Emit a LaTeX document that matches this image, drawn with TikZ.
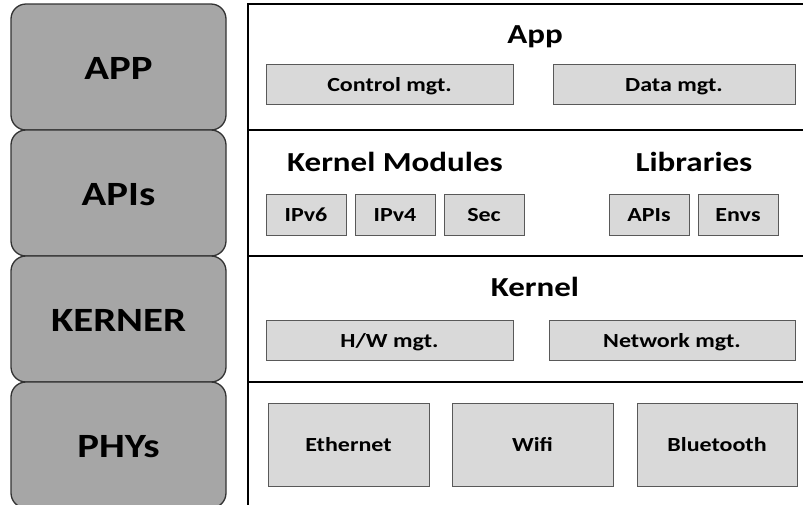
\documentclass[tikz,border=0pt]{standalone}
\usepackage{fontspec}
\setmainfont{Carlito}[FakeStretch=1.2]
\definecolor{layergray}{HTML}{A6A6A6}
\definecolor{boxgray}{HTML}{D9D9D9}
\definecolor{boxedge}{HTML}{595959}
\begin{document}
\begin{tikzpicture}[x=1pt,y=-1pt,
  layer/.style={draw=black!80, line width=1.3pt, fill=layergray,
    rounded corners=15pt, inner sep=0pt, outer sep=0pt,
    minimum width=215pt, minimum height=126pt,
    text height=24pt, text depth=0pt,
    font=\bfseries\fontsize{34}{40}\selectfont},
  row/.style={draw=black, line width=1.4pt, inner sep=0pt, outer sep=0pt,
    minimum width=567pt, minimum height=126pt},
  title/.style={anchor=base, inner sep=0pt,
    font=\bfseries\fontsize{27.5}{33}\selectfont},
  part/.style={draw=boxedge, line width=0.9pt, fill=boxgray,
    inner sep=0pt, outer sep=0pt, minimum height=40pt,
    text height=14pt, text depth=0pt,
    font=\bfseries\fontsize{20}{24}\selectfont}]
\useasboundingbox (0,0) rectangle (803,504);
\clip (0,0) rectangle (803,504);

% right-hand panel, one row per layer
\node[row] (rowapp) at (531.5,67)  {};
\node[row] (rowmid) at (531.5,193) {};
\node[row] (rowker) at (531.5,319) {};
\node[row] (rowphy) at (531.5,445) {};

% layer names on the left
\node[layer] (lapp) at (118.5,67)  {APP};
\node[layer] (lapi) at (118.5,193) {APIs};
\node[layer] (lker) at (118.5,319) {KERNER};
\node[layer] (lphy) at (118.5,445) {PHYs};

% App layer
\node[title] (tapp) at (535,43) {App};
\node[part, minimum width=247pt] (ctrl) at (389.5,84) {Control mgt.};
\node[part, minimum width=242pt] (data) at (674,84) {Data mgt.};

% kernel modules and libraries
\node[title] (tmod) at (395,171) {Kernel Modules};
\node[title] (tlib) at (694,171) {Libraries};
\node[part, minimum width=80pt, minimum height=41pt] (ipsix)  at (306,214.5) {IPv6};
\node[part, minimum width=80pt, minimum height=41pt] (ipfour) at (395,214.5) {IPv4};
\node[part, minimum width=80pt, minimum height=41pt] (sec)    at (484,214.5) {Sec};
\node[part, minimum width=80pt, minimum height=41pt] (apis)   at (649,214.5) {APIs};
\node[part, minimum width=80pt, minimum height=41pt] (envs)   at (738,214.5) {Envs};

% kernel
\node[title] (tker) at (535,296) {Kernel};
\node[part, minimum width=247pt] (hw)  at (389.5,340) {H/W mgt.};
\node[part, minimum width=246pt] (net) at (672,340) {Network mgt.};

% physical interfaces
\node[part, minimum width=161pt, minimum height=83pt] (eth)  at (348.5,444.5) {Ethernet};
\node[part, minimum width=161pt, minimum height=83pt] (wifi) at (532.5,444.5) {Wifi};
\node[part, minimum width=160pt, minimum height=83pt] (bt)   at (717,444.5) {Bluetooth};
\end{tikzpicture}
\end{document}
